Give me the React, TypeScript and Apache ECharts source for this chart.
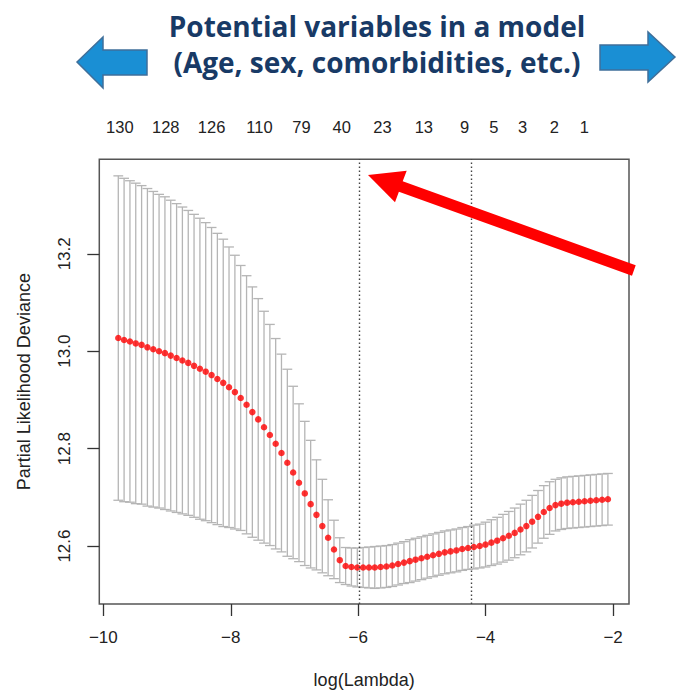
import React, { useEffect, useRef } from 'react';
import * as echarts from 'echarts';

// log(lambda) grid of the cross-validation path
const logLambda = [
  -9.765, -9.674, -9.582, -9.491, -9.399, -9.308, -9.216, -9.125, -9.033, -8.942,
  -8.850, -8.759, -8.667, -8.576, -8.484, -8.393, -8.301, -8.210, -8.118, -8.027,
  -7.935, -7.844, -7.752, -7.661, -7.569, -7.478, -7.386, -7.295, -7.204, -7.112,
  -7.021, -6.929, -6.838, -6.746, -6.655, -6.563, -6.472, -6.380, -6.289, -6.197,
  -6.106, -6.014, -5.923, -5.831, -5.740, -5.648, -5.557, -5.465, -5.374, -5.282,
  -5.191, -5.100, -5.008, -4.917, -4.825, -4.734, -4.642, -4.551, -4.459, -4.368,
  -4.276, -4.185, -4.093, -4.002, -3.910, -3.819, -3.727, -3.636, -3.544, -3.453,
  -3.361, -3.270, -3.178, -3.087, -2.996, -2.904, -2.813, -2.721, -2.630, -2.538,
  -2.447, -2.355, -2.264, -2.172, -2.081,
];

// mean partial likelihood deviance
const cvMean = [
  13.027, 13.023, 13.020, 13.016, 13.013, 13.008, 13.004, 13.000, 12.996, 12.991,
  12.986, 12.981, 12.976, 12.970, 12.964, 12.958, 12.951, 12.943, 12.935, 12.926,
  12.916, 12.904, 12.890, 12.875, 12.860, 12.844, 12.828, 12.810, 12.791, 12.771,
  12.751, 12.730, 12.708, 12.686, 12.664, 12.641, 12.617, 12.593, 12.571, 12.559,
  12.557, 12.556, 12.556, 12.556, 12.556, 12.557, 12.558, 12.560, 12.563, 12.566,
  12.569, 12.572, 12.575, 12.578, 12.581, 12.584, 12.587, 12.589, 12.591, 12.594,
  12.596, 12.598, 12.600, 12.603, 12.607, 12.611, 12.616, 12.621, 12.627, 12.634,
  12.641, 12.650, 12.660, 12.670, 12.678, 12.684, 12.687, 12.689, 12.690, 12.691,
  12.692, 12.693, 12.694, 12.695, 12.696,
];

// standard error (half-length of the error bars)
const cvSd = [
  0.333, 0.332, 0.330, 0.329, 0.327, 0.326, 0.324, 0.322, 0.321, 0.319,
  0.317, 0.315, 0.313, 0.311, 0.309, 0.306, 0.303, 0.299, 0.295, 0.288,
  0.281, 0.272, 0.265, 0.257, 0.248, 0.238, 0.227, 0.216, 0.203, 0.192,
  0.177, 0.162, 0.148, 0.131, 0.113, 0.096, 0.078, 0.060, 0.046, 0.038,
  0.039, 0.040, 0.041, 0.042, 0.043, 0.043, 0.043, 0.043, 0.043, 0.043,
  0.044, 0.044, 0.044, 0.044, 0.044, 0.044, 0.044, 0.044, 0.044, 0.044,
  0.044, 0.045, 0.045, 0.046, 0.047, 0.048, 0.049, 0.050, 0.051, 0.052,
  0.053, 0.054, 0.054, 0.054, 0.054, 0.053, 0.053, 0.053, 0.053, 0.053,
  0.053, 0.053, 0.053, 0.053, 0.053,
];

const xTicks = [-10, -8, -6, -4, -2];
const yTicks = [12.6, 12.8, 13.0, 13.2];

// number of non-zero coefficients along the top
const topPositions = [-9.74, -9.02, -8.30, -7.55, -6.89, -6.26, -5.62, -4.97, -4.33, -3.87, -3.42, -2.92, -2.45];
const topLabels = ['130', '128', '126', '110', '79', '40', '23', '13', '9', '5', '3', '2', '1'];

const lambdaMin = -5.98;
const lambda1se = -4.23;

const titleLines = ['Potential variables in a model', '(Age, sex, comorbidities, etc.)'];

const CAP_HALF = 0.077;

export default function App() {
  const ref = useRef<HTMLDivElement>(null);

  useEffect(() => {
    if (!ref.current) return;
    const chart = echarts.init(ref.current, null, { renderer: 'svg' });
    const font = "'Liberation Sans', Arial, Helvetica, sans-serif";
    const titleFont = '"Open Sans", Lato, sans-serif';

    const errData = logLambda.map((x, i) => [x, cvMean[i] + cvSd[i], cvMean[i] - cvSd[i]]);
    const ptData = logLambda.map((x, i) => [x, cvMean[i]]);

    const xMin = -10.063;
    const xMax = -1.75;

    chart.setOption({
      animation: false,
      grid: {
        left: 99.3,
        right: 49,
        top: 159.3,
        bottom: 87.3,
        show: true,
        borderColor: '#555',
        borderWidth: 1.5,
        backgroundColor: 'transparent',
      },
      xAxis: [
        {
          type: 'value',
          position: 'bottom',
          min: xMin,
          max: xMax,
          splitLine: { show: false },
          axisLine: { show: false },
          axisTick: { show: true, customValues: xTicks, length: 12, lineStyle: { color: '#333', width: 1.3 } },
          axisLabel: {
            customValues: xTicks,
            margin: 25,
            fontSize: 17,
            color: '#222',
            fontFamily: font,
            formatter: (v: number) => (v < 0 ? '\u2212' + Math.abs(v) : String(v)),
          },
          name: 'log(Lambda)',
          nameLocation: 'middle',
          nameGap: 67,
          nameTextStyle: { fontSize: 18, color: '#222', fontFamily: font },
        },
        {
          type: 'value',
          position: 'top',
          min: xMin,
          max: xMax,
          splitLine: { show: false },
          axisLine: { show: false },
          axisTick: { show: false },
          axisLabel: {
            customValues: topPositions,
            margin: 24,
            fontSize: 16.5,
            color: '#222',
            fontFamily: font,
            formatter: (v: number) => {
              let best = 0;
              for (let i = 1; i < topPositions.length; i++) {
                if (Math.abs(topPositions[i] - v) < Math.abs(topPositions[best] - v)) best = i;
              }
              return topLabels[best];
            },
          },
        },
      ],
      yAxis: {
        type: 'value',
        min: 12.481,
        max: 13.394,
        splitLine: { show: false },
        axisLine: { show: false },
        axisTick: { show: true, customValues: yTicks, length: 12, lineStyle: { color: '#333', width: 1.3 } },
        axisLabel: {
          customValues: yTicks,
          rotate: 90,
          margin: 26,
          fontSize: 17,
          color: '#222',
          fontFamily: font,
          formatter: (v: number) => v.toFixed(1),
        },
        name: 'Partial Likelihood Deviance',
        nameLocation: 'middle',
        nameGap: 66,
        nameTextStyle: { fontSize: 18, color: '#222', fontFamily: font },
      },
      series: [
        {
          type: 'custom',
          xAxisIndex: 0,
          data: errData,
          encode: { x: 0, y: [1, 2] },
          silent: true,
          renderItem: (params: any, api: any) => {
            const x = api.value(0);
            const top = api.coord([x, api.value(1)]);
            const bot = api.coord([x, api.value(2)]);
            const hw = api.size([CAP_HALF, 0])[0];
            const style = { stroke: '#b5b5b5', lineWidth: 1.3 };
            return {
              type: 'group',
              children: [
                { type: 'line', shape: { x1: top[0], y1: top[1], x2: bot[0], y2: bot[1] }, style },
                { type: 'line', shape: { x1: top[0] - hw, y1: top[1], x2: top[0] + hw, y2: top[1] }, style },
                { type: 'line', shape: { x1: bot[0] - hw, y1: bot[1], x2: bot[0] + hw, y2: bot[1] }, style },
              ],
            };
          },
          z: 2,
        },
        {
          type: 'scatter',
          xAxisIndex: 0,
          data: ptData,
          symbol: 'circle',
          symbolSize: 6.5,
          itemStyle: { color: '#ff0000' },
          silent: true,
          z: 3,
          markLine: {
            silent: true,
            symbol: ['none', 'none'],
            label: { show: false },
            lineStyle: { color: '#444', type: [1.5, 2.5], width: 1.4 },
            data: [{ xAxis: lambdaMin }, { xAxis: lambda1se }],
          },
        },
      ],
      graphic: [
        {
          type: 'text',
          z: 100,
          style: {
            text: titleLines[0],
            x: 377,
            y: 26,
            textAlign: 'center',
            textVerticalAlign: 'middle',
            fontSize: 28,
            fontWeight: 'bold',
            fontFamily: titleFont,
            fill: '#183a66',
          },
        },
        {
          type: 'text',
          z: 100,
          style: {
            text: titleLines[1],
            x: 377,
            y: 62,
            textAlign: 'center',
            textVerticalAlign: 'middle',
            fontSize: 28,
            fontWeight: 'bold',
            fontFamily: titleFont,
            fill: '#183a66',
          },
        },
        {
          type: 'polygon',
          z: 100,
          shape: { points: [[77, 62], [103, 37], [103, 50], [147, 50], [147, 75], [103, 75], [103, 88]] },
          style: { fill: '#1a8fd4', stroke: '#3f6f9a', lineWidth: 1.5 },
        },
        {
          type: 'polygon',
          z: 100,
          shape: { points: [[675, 57], [648, 32], [648, 45], [600, 45], [600, 70], [648, 70], [648, 82]] },
          style: { fill: '#1a8fd4', stroke: '#3f6f9a', lineWidth: 1.5 },
        },
        {
          type: 'polygon',
          z: 100,
          shape: {
            points: [
              [368, 175], [406.7, 170.7], [402.7, 181.3], [635.7, 265.3],
              [632, 275.7], [398.9, 191.7], [395, 202.3],
            ],
          },
          style: { fill: '#ff0000' },
        },
      ],
    });

    return () => chart.dispose();
  }, []);

  return (
    <div
      ref={ref}
      style={{ position: 'fixed', left: 0, top: 0, width: 678, height: 694, background: '#fff' }}
    />
  );
}
